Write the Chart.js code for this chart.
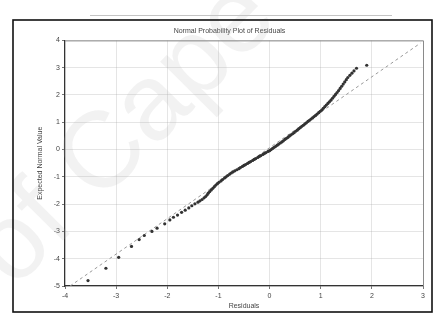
<!DOCTYPE html>
<html><head><meta charset="utf-8">
<script src="https://cdn.jsdelivr.net/npm/chart.js@4/dist/chart.umd.min.js"></script>
<style>html,body{margin:0;padding:0;background:#fff}#wrap{position:absolute;left:0;top:0;width:440px;height:320px}</style>
</head><body><div id="wrap"><canvas id="c" width="440" height="320"></canvas></div>
<script>
const chartTitle = "Normal Probability Plot of Residuals";
const xAxisTitle = "Residuals";
const yAxisTitle = "Expected Normal Value";
const xTicks = [-4, -3, -2, -1, 0, 1, 2, 3];
const yTicks = [-5, -4, -3, -2, -1, 0, 1, 2, 3, 4];
const watermark = "of Cape";

const residuals = [
 -3.55, -3.20, -2.95, -2.70, -2.55, -2.45, -2.30, -2.20, -2.05, -1.95, -1.88, -1.80, -1.72, -1.65, -1.58,
 -1.52, -1.46, -1.40, -1.36, -1.32, -1.28, -1.25, -1.22, -1.20, -1.17, -1.14, -1.11, -1.08, -1.05, -1.02,
 -0.99, -0.95, -0.92, -0.88, -0.85, -0.82, -0.78, -0.75, -0.72, -0.68, -0.64, -0.60, -0.57, -0.53, -0.50,
 -0.47, -0.43, -0.40, -0.37, -0.33, -0.30, -0.27, -0.23, -0.20, -0.17, -0.13, -0.10, -0.07, -0.03, 0.00,
 0.03, 0.06, 0.09, 0.12, 0.15, 0.18, 0.21, 0.24, 0.27, 0.30, 0.33, 0.36, 0.39, 0.42, 0.45,
 0.48, 0.51, 0.54, 0.57, 0.60, 0.63, 0.66, 0.69, 0.72, 0.75, 0.78, 0.81, 0.84, 0.87, 0.90,
 0.93, 0.96, 0.99, 1.02, 1.05, 1.08, 1.11, 1.14, 1.17, 1.20, 1.23, 1.26, 1.29, 1.32, 1.35,
 1.38, 1.41, 1.44, 1.47, 1.50, 1.53, 1.57, 1.61, 1.65, 1.70, 1.90
];
const expectedNormal = [
 -4.80, -4.35, -3.95, -3.55, -3.30, -3.15, -3.00, -2.88, -2.72, -2.58, -2.48, -2.40, -2.30, -2.22, -2.14,
 -2.06, -1.99, -1.93, -1.88, -1.83, -1.77, -1.72, -1.66, -1.60, -1.54, -1.48, -1.42, -1.36, -1.30, -1.25,
 -1.20, -1.15, -1.10, -1.04, -1.00, -0.95, -0.90, -0.86, -0.82, -0.78, -0.74, -0.70, -0.66, -0.62, -0.58,
 -0.55, -0.51, -0.47, -0.44, -0.40, -0.36, -0.33, -0.29, -0.25, -0.22, -0.18, -0.14, -0.11, -0.07, -0.04,
 0.00, 0.04, 0.08, 0.12, 0.16, 0.20, 0.24, 0.28, 0.32, 0.37, 0.41, 0.45, 0.50, 0.54, 0.58,
 0.62, 0.67, 0.71, 0.76, 0.80, 0.85, 0.89, 0.94, 0.98, 1.03, 1.07, 1.12, 1.16, 1.21, 1.25,
 1.30, 1.35, 1.40, 1.45, 1.51, 1.57, 1.63, 1.69, 1.75, 1.81, 1.88, 1.95, 2.02, 2.09, 2.16,
 2.24, 2.32, 2.40, 2.48, 2.56, 2.64, 2.72, 2.80, 2.88, 2.98, 3.09
];
const refLineX = [-3.90, 2.95];
const refLineY = [-5.00, 3.90];

const points = residuals.map((x, i) => ({ x: x, y: expectedNormal[i] }));
const refPoints = refLineX.map((x, i) => ({ x: x, y: refLineY[i] }));

const deco = {
  id: 'deco',
  beforeDatasetsDraw(chart) {
    const ctx = chart.ctx;
    ctx.save();
    ctx.translate(14, 290);
    ctx.rotate(-0.79);
    ctx.font = '108px "Liberation Sans", Arial, sans-serif';
    ctx.fillStyle = 'rgba(175,175,175,0.17)';
    ctx.fillText(watermark, 0, 0);
    ctx.restore();
  },
  afterDraw(chart) {
    const ctx = chart.ctx, a = chart.chartArea;
    ctx.save();
    ctx.strokeStyle = '#8a8a8a';
    ctx.lineWidth = 1;
    ctx.beginPath();
    ctx.moveTo(a.left, a.top + 0.5); ctx.lineTo(a.right + 0.5, a.top + 0.5); ctx.lineTo(a.right + 0.5, a.bottom);
    ctx.stroke();
    ctx.strokeStyle = '#111';
    ctx.lineWidth = 1.6;
    ctx.strokeRect(13, 20, 419, 292);
    ctx.strokeStyle = '#c4c4c4';
    ctx.lineWidth = 1;
    ctx.beginPath(); ctx.moveTo(90, 15.5); ctx.lineTo(392, 15.5); ctx.stroke();
    ctx.restore();
  }
};

new Chart(document.getElementById('c'), {
  type: 'scatter',
  data: {
    datasets: [
      { data: points, pointRadius: 1.6, pointBackgroundColor: '#333', pointBorderColor: '#333', pointBorderWidth: 0, showLine: false, order: 1 },
      { data: refPoints, showLine: true, pointRadius: 0, borderColor: '#999', borderWidth: 1, borderDash: [3, 3], order: 2 }
    ]
  },
  options: {
    responsive: false, animation: false, devicePixelRatio: 1,
    layout: { padding: { left: 36, right: 17, top: 24, bottom: 10 } },
    plugins: {
      legend: { display: false }, tooltip: { enabled: false },
      title: { display: true, text: chartTitle, color: '#444', font: { family: '"Liberation Sans", Arial, sans-serif', size: 7, weight: 'normal' }, padding: { top: 3, bottom: 5 } }
    },
    scales: {
      x: {
        type: 'linear', min: -4, max: 3,
        afterBuildTicks: s => { s.ticks = xTicks.map(v => ({ value: v })); },
        afterFit: s => { s.height = 24; },
        border: { color: '#333', width: 1.2 },
        grid: { color: 'rgba(160,160,160,0.28)', borderDash: [1, 2], tickLength: 3, drawTicks: true, tickColor: '#777' },
        ticks: { color: '#444', font: { family: '"Liberation Sans", Arial, sans-serif', size: 7 }, padding: 3, maxRotation: 0 },
        title: { display: true, text: xAxisTitle, color: '#444', font: { family: '"Liberation Sans", Arial, sans-serif', size: 7 }, padding: { top: 1, bottom: 0 } }
      },
      y: {
        type: 'linear', min: -5, max: 4,
        afterBuildTicks: s => { s.ticks = yTicks.map(v => ({ value: v })); },
        afterFit: s => { s.width = 29; },
        border: { color: '#333', width: 1.2 },
        grid: { color: 'rgba(160,160,160,0.28)', borderDash: [1, 2], tickLength: 3, drawTicks: true, tickColor: '#777' },
        ticks: { color: '#444', font: { family: '"Liberation Sans", Arial, sans-serif', size: 7 }, padding: 2 },
        title: { display: true, text: yAxisTitle, color: '#444', font: { family: '"Liberation Sans", Arial, sans-serif', size: 7 }, padding: { top: 0, bottom: 2 } }
      }
    }
  },
  plugins: [deco]
});
</script>
</body></html>
